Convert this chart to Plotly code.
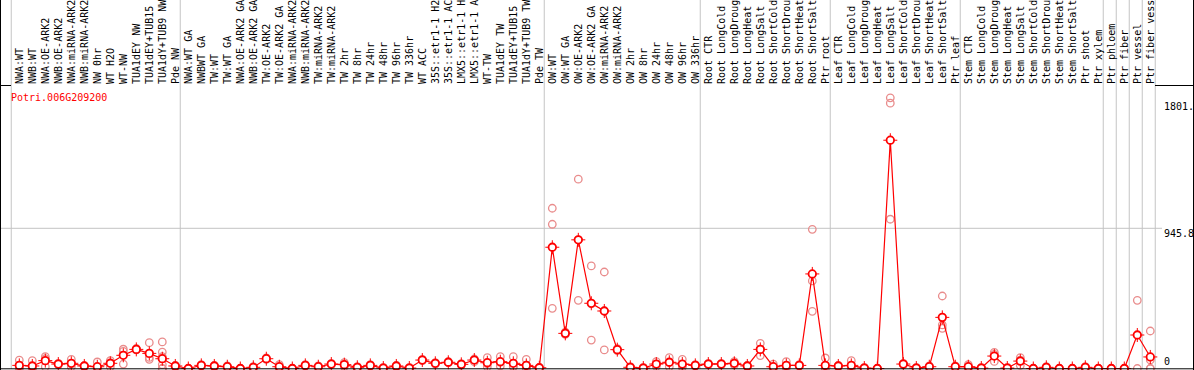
import plotly.graph_objects as go

gene = "Potri.006G209200"

labels = [
    "NWA:WT", "NWB:WT", "NWA:OE-ARK2", "NWB:OE-ARK2", "NWA:miRNA-ARK2", "NWB:miRNA-ARK2",
    "NW 0hr", "WT H2O", "WT-NW", "TUA1dEY NW", "TUA1dEY+TUB15", "TUA1dY+TUB9 NW", "Pde NW",
    "NWA:WT GA", "NWBWT GA", "TW:WT", "TW:WT GA", "NWA:OE-ARK2 GA", "NWB:OE-ARK2 GA",
    "TW:OE-ARK2", "TW:OE-ARK2 GA", "NWA:miRNA-ARK2", "NWB:miRNA-ARK2", "TW:miRNA-ARK2",
    "TW:miRNA-ARK2", "TW 2hr", "TW 8hr", "TW 24hr", "TW 48hr", "TW 96hr", "TW 336hr",
    "WT ACC", "35S::etr1-1 H2", "35S::etr1-1 AC", "LMX5::etr1-1 H", "LMX5::etr1-1 A",
    "WT-TW", "TUA1dEY TW", "TUA1dEY+TUB15", "TUA1dY+TUB9 TW", "Pde TW",
    "OW:WT", "OW:WT GA", "OW:OE-ARK2", "OW:OE-ARK2 GA", "OW:miRNA-ARK2", "OW:miRNA-ARK2",
    "OW 2hr", "OW 8hr", "OW 24hr", "OW 48hr", "OW 96hr", "OW 336hr",
    "Root CTR", "Root LongCold", "Root LongDroug", "Root LongHeat", "Root LongSalt",
    "Root ShortCold", "Root ShortDrou", "Root ShortHeat", "Root ShortSalt", "Ptr root",
    "Leaf CTR", "Leaf LongCold", "Leaf LongDroug", "Leaf LongHeat", "Leaf LongSalt",
    "Leaf ShortCold", "Leaf ShortDrou", "Leaf ShortHeat", "Leaf ShortSalt", "Ptr leaf",
    "Stem CTR", "Stem LongCold", "Stem LongDroug", "Stem LongHeat", "Stem LongSalt",
    "Stem ShortCold", "Stem ShortDrou", "Stem ShortHeat", "Stem ShortSalt",
    "Ptr shoot", "Ptr xylem", "Ptr phloem", "Ptr fiber", "Ptr vessel", "Ptr fiber vess",
]

group_sizes = [13, 28, 12, 10, 10, 11, 1, 1, 1, 1]

means = [21, 17, 53, 30, 35, 17, 12, 35, 89, 129,
         102, 66, 17, 0, 21, 17, 12, 0, 8, 66,
         12, 0, 21, 12, 30, 26, 8, 21, 3, 17,
         3, 57, 35, 42, 28, 57, 39, 46, 35, 21,
         5, 818, 237, 868, 440, 388, 127, 8, 3, 30,
         42, 30, 21, 30, 30, 35, 17, 129, 12, 21,
         21, 638, 21, 17, 21, 3, 0, 1540, 30, 3,
         12, 345, 12, 12, 3, 84, 3, 50, 0, 8,
         0, 0, 8, 0, 0, 0, 226, 78]

replicates = [
    [57, 8, 0], [53, 0, 0], [80, 67, 12], [35, 30, 25], [62, 31, 12],
    [20, 17, 14], [44, 0, 0], [53, 40, 12], [130, 115, 30], [135, 128, 125],
    [174, 75, 62], [179, 111, 80, 26, 0, 0], [21, 17, 12], [0, 0, 0], [26, 21, 17],
    [21, 17, 12], [17, 12, 8], [0, 0, 0], [12, 8, 4], [71, 66, 62],
    [26, 8, 3], [0, 0, 0], [26, 21, 17], [17, 12, 8], [35, 30, 26],
    [39, 26, 13], [12, 8, 4], [26, 21, 17], [8, 2, 0], [21, 17, 12],
    [8, 2, 0], [62, 57, 53], [39, 35, 30], [46, 42, 39], [33, 28, 23],
    [64, 60, 46], [73, 32, 12], [80, 41, 17], [80, 13, 12], [62, 22, 0, 0],
    [8, 4, 2], [1081, 973, 406], [245, 237, 230], [1277, 868, 460], [692, 436, 192],
    [651, 388, 125], [134, 127, 120], [12, 8, 4], [8, 2, 0], [46, 30, 14],
    [73, 41, 12], [62, 20, 8], [26, 21, 17], [35, 30, 26], [35, 30, 26],
    [46, 35, 24], [21, 17, 12], [170, 130, 87], [30, 4, 2], [46, 12, 5],
    [26, 21, 17], [939, 591, 386], [71, 0, 0], [21, 17, 12], [53, 8, 2],
    [8, 2, 0], [0, 0, 0], [1826, 1790, 1007], [35, 30, 26], [8, 2, 0],
    [17, 12, 8], [489, 294, 271], [17, 12, 8], [26, 8, 2], [8, 2, 0],
    [109, 95, 48], [8, 2, 0], [73, 56, 21], [0, 0, 0], [12, 8, 4],
    [0, 0, 0], [0, 0, 0], [12, 8, 4], [0, 0, 0], [0, 0, 0],
    [0, 0, 0], [460, 0], [253, 58, 0, 0],
]

y_ticks_mid = [945.8, 1801.4]
y_tick_zero = [0]

# ---- geometry / style ----
W, H = 1194, 370
FONT = "DejaVu Sans Mono"
RED = "#FF0000"
PINK = "#E98C8C"
GRID = "#C4C4C4"

x_idx = list(range(len(labels)))
x_range = [-19.3 / 13, (W - 19.3) / 13]
label_h = 85
y_dom_top = (H - label_h) / H
scale = (368.5 - 228.3) / 945.8
y_range = [-(H - 368.5) / scale, (368.5 - label_h) / scale]

rx, ry = [], []
for i, reps in enumerate(replicates):
    for v in reps:
        rx.append(i)
        ry.append(v)

fig = go.Figure()
fig.add_trace(go.Scatter(x=rx, y=ry, mode="markers", cliponaxis=False,
                         marker=dict(symbol="circle-open", size=7.5, color=PINK,
                                     line=dict(width=1.3, color=PINK)),
                         hoverinfo="skip"))
fig.add_trace(go.Scatter(x=x_idx, y=means, mode="lines",
                         line=dict(color=RED, width=1.2), hoverinfo="skip"))
fig.add_trace(go.Scatter(x=x_idx, y=means, mode="markers", cliponaxis=False,
                         marker=dict(symbol="cross-thin-open", size=10, color=RED,
                                     line=dict(width=1, color=RED)),
                         hoverinfo="skip"))
fig.add_trace(go.Scatter(x=x_idx, y=means, mode="markers", cliponaxis=False,
                         marker=dict(symbol="circle", size=7.5, color="white",
                                     line=dict(width=1.8, color=RED))))
# invisible helpers so the overlay axes render
fig.add_trace(go.Scatter(x=[x_idx[0]], y=[0], yaxis="y2", mode="markers",
                         marker=dict(opacity=0), hoverinfo="skip"))
fig.add_trace(go.Scatter(x=[x_idx[0]], y=[0], yaxis="y3", mode="markers",
                         marker=dict(opacity=0), hoverinfo="skip"))

shapes = []
# group separators
cum = 0
bounds = [cum - 0.62]
for g in group_sizes:
    cum += g
    bounds.append(cum - 0.62)
for b in bounds:
    shapes.append(dict(type="line", xref="x", yref="paper", x0=b, x1=b,
                       y0=1.0 / H, y1=1, line=dict(color=GRID, width=1), layer="below"))
# horizontal grid line at mid tick
shapes.append(dict(type="line", xref="paper", yref="y", x0=0, x1=1162 / W,
                   y0=y_ticks_mid[0], y1=y_ticks_mid[0],
                   line=dict(color=GRID, width=1), layer="below"))
# frame
blk = dict(color="black", width=1)
shapes += [
    dict(type="line", xref="paper", yref="paper", x0=0.5 / W, x1=0.5 / W, y0=0, y1=1, line=blk),
    dict(type="line", xref="paper", yref="paper", x0=1 - 0.5 / W, x1=1 - 0.5 / W, y0=0, y1=1, line=blk),
    dict(type="line", xref="paper", yref="paper", x0=0, x1=1, y0=1.2 / H, y1=1.2 / H, line=blk),
    dict(type="line", xref="paper", yref="paper", x0=0, x1=11 / W,
         y0=(H - 85.5) / H, y1=(H - 85.5) / H, line=blk),
    dict(type="line", xref="paper", yref="paper", x0=1155 / W, x1=1,
         y0=(H - 85.5) / H, y1=(H - 85.5) / H, line=blk),
]

fig.update_layout(
    width=W, height=H, margin=dict(l=0, r=0, t=0, b=0),
    paper_bgcolor="white", plot_bgcolor="white", showlegend=False,
    font=dict(family=FONT, size=10, color="black"),
    shapes=shapes,
    xaxis=dict(domain=[0, 1], range=x_range, side="top", anchor="y",
               tickmode="array", tickvals=x_idx, ticktext=labels, tickangle=-90,
               showgrid=False, zeroline=False, showline=False, ticks="",
               tickfont=dict(family=FONT, size=10, color="black"), automargin=False),
    yaxis=dict(domain=[0, y_dom_top], range=y_range, showticklabels=False,
               showgrid=False, zeroline=False, showline=False, ticks=""),
    yaxis2=dict(overlaying="y", side="right", anchor="free", position=1163 / W,
                range=y_range, tickmode="array", tickvals=y_ticks_mid,
                ticktext=[str(v) for v in y_ticks_mid], showgrid=False, zeroline=False,
                showline=False, ticks="", ticklabelshift=5,
                tickfont=dict(family=FONT, size=10, color="black"), automargin=False),
    yaxis3=dict(overlaying="y", side="right", anchor="free", position=1163 / W,
                range=y_range, tickmode="array", tickvals=y_tick_zero,
                ticktext=[str(v) for v in y_tick_zero], showgrid=False, zeroline=False,
                showline=False, ticks="", ticklabelshift=-7,
                tickfont=dict(family=FONT, size=10, color="black"), automargin=False),
    annotations=[dict(text=gene, xref="paper", yref="paper", x=9 / W, y=(H - 97) / H,
                      xanchor="left", yanchor="middle", showarrow=False,
                      font=dict(family=FONT, size=10, color=RED))],
)

fig.write_html("out.html", config={"displayModeBar": False},
               post_script="document.body.style.margin='0';document.body.style.overflow='hidden';")
